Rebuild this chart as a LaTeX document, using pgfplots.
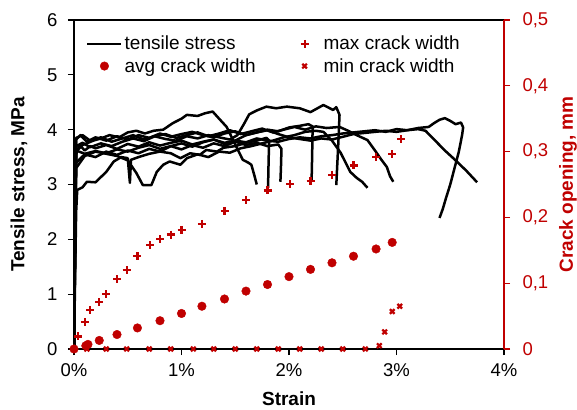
\documentclass[border=0pt]{standalone}
\usepackage{pgfplots}
\pgfplotsset{compat=1.18}
\usepackage{fontspec}
\setmainfont{Liberation Sans}
\definecolor{cred}{RGB}{192,0,0}
\pgfplotsset{
  legmark/.style={legend image code/.code={\path[draw=none,fill=none] (0bp,0bp) (34bp,0bp); \draw[##1] plot coordinates {(17bp,0bp)};}},
  legline/.style={legend image code/.code={\draw[##1] (0bp,0bp) -- (34bp,0bp);}},
  curve/.style={black, line width=2.5bp, line join=round},
}
\begin{document}
\begin{tikzpicture}
\begin{axis}[name=ax1,
 scale only axis, width=430bp, height=329bp,
 xmin=0,xmax=4, ymin=0,ymax=6,
 xtick={0,1,2,3,4}, xticklabels={0\%,1\%,2\%,3\%,4\%},
 ytick={0,1,2,3,4,5,6},
 axis line style={line width=1.6bp, black},
 tick style={line width=1.2bp, black},
 major tick length=6bp,
 tick align=outside, xtick pos=bottom, ytick pos=left,
 ticklabel style={font=\fontsize{18.5bp}{20bp}\selectfont},
 xticklabel style={yshift=-5bp},
 yticklabel style={xshift=-7bp},
 /pgf/number format/assume math mode=true,
 every axis x label/.style={at={(axis description cs:0.5,0)}, yshift=-50bp, anchor=center},
 every axis y label/.style={at={(axis description cs:0,0.5)}, xshift=-55bp, rotate=90, anchor=center},
 xlabel={Strain}, ylabel={Tensile stress, MPa},
 label style={font=\fontsize{19bp}{22bp}\selectfont\bfseries},
]
\addplot[curve] coordinates {(0,0)(0.01,1.8)(0.02,3.55)(0.05,3.72)(0.1,3.62)(0.15,3.7)(0.2,3.66)(0.3,3.72)(0.4,3.65)(0.5,3.74)(0.6,3.69)(0.7,3.77)(0.8,3.71)(0.9,3.76)(1.0,3.8)(1.1,3.73)(1.2,3.78)(1.3,3.82)(1.4,3.76)(1.5,3.8)(1.6,3.77)(1.7,3.84)(1.8,3.8)(1.9,3.78)(2.0,3.83)(2.1,3.86)(2.2,3.84)(2.3,3.88)(2.4,3.9)(2.5,3.93)(2.6,3.95)(2.7,3.97)(2.8,3.99)(2.9,3.96)(3.0,4.01)(3.1,3.99)(3.2,4.03)(3.3,4.05)(3.35,4.12)(3.4,4.18)(3.45,4.21)(3.5,4.16)(3.55,4.1)(3.6,4.13)(3.62,4.04)(3.61,3.9)(3.58,3.6)(3.54,3.3)(3.5,3.0)(3.46,2.75)(3.43,2.55)(3.40,2.39)};
\addplot[curve] coordinates {(0,0)(0.01,2.5)(0.02,3.82)(0.06,3.9)(0.12,3.78)(0.2,3.86)(0.3,3.8)(0.4,3.88)(0.5,3.82)(0.6,3.9)(0.7,3.85)(0.8,3.93)(0.9,3.87)(1.0,3.92)(1.1,3.96)(1.2,3.9)(1.3,3.86)(1.4,3.93)(1.5,3.97)(1.6,3.9)(1.7,3.95)(1.8,3.99)(1.9,3.92)(2.0,3.86)(2.1,3.83)(2.2,3.8)(2.3,3.84)(2.4,3.82)(2.5,3.87)(2.6,3.92)(2.7,3.94)(2.8,3.96)(2.9,3.98)(3.0,3.96)(3.1,3.99)(3.2,4.01)(3.27,3.98)(3.35,3.82)(3.45,3.62)(3.55,3.44)(3.65,3.25)(3.75,3.04)};
\addplot[curve] coordinates {(0,0)(0.01,2.2)(0.02,3.7)(0.08,3.76)(0.15,3.68)(0.25,3.75)(0.35,3.7)(0.45,3.78)(0.55,3.84)(0.65,3.79)(0.75,3.88)(0.85,3.83)(0.95,3.8)(1.05,3.88)(1.15,3.84)(1.25,3.9)(1.35,3.86)(1.45,3.82)(1.52,3.9)(1.58,4.1)(1.63,4.28)(1.7,4.35)(1.79,4.42)(1.88,4.39)(1.98,4.42)(2.1,4.39)(2.2,4.32)(2.32,4.45)(2.41,4.36)(2.44,4.41)(2.47,4.27)(2.46,3.8)(2.45,3.4)(2.44,2.99)};
\addplot[curve] coordinates {(0,0)(0.01,2.0)(0.02,3.6)(0.08,3.72)(0.18,3.8)(0.25,3.84)(0.33,3.9)(0.42,3.86)(0.5,3.95)(0.58,3.98)(0.66,3.93)(0.74,3.98)(0.83,4.0)(0.92,4.12)(1.0,4.2)(1.05,4.27)(1.15,4.25)(1.22,4.3)(1.29,4.33)(1.35,4.2)(1.42,4.05)(1.47,3.85)(1.52,3.65)(1.57,3.45)(1.62,3.4)(1.65,3.36)(1.68,3.15)(1.70,3.0)};
\addplot[curve] coordinates {(0,0)(0.01,2.4)(0.02,3.62)(0.1,3.56)(0.2,3.61)(0.3,3.57)(0.4,3.64)(0.5,3.6)(0.6,3.67)(0.7,3.72)(0.8,3.65)(0.9,3.7)(1.0,3.75)(1.1,3.69)(1.2,3.77)(1.3,3.82)(1.4,3.74)(1.5,3.8)(1.6,3.9)(1.7,3.95)(1.8,4.0)(1.9,3.97)(2.0,4.04)(2.1,4.07)(2.18,4.1)(2.22,4.06)(2.215,3.5)(2.21,3.05)};
\addplot[curve] coordinates {(0,0)(0.01,1.6)(0.02,3.4)(0.1,3.55)(0.2,3.5)(0.3,3.6)(0.4,3.54)(0.5,3.62)(0.6,3.57)(0.7,3.65)(0.8,3.6)(0.9,3.7)(1.0,3.64)(1.1,3.72)(1.2,3.67)(1.3,3.75)(1.4,3.7)(1.5,3.78)(1.6,3.72)(1.7,3.76)(1.8,3.7)(1.9,3.73)(1.93,3.65)(1.925,3.3)(1.92,3.05)};
\addplot[curve] coordinates {(0,0)(0.02,2.5)(0.03,2.9)(0.08,2.95)(0.12,3.05)(0.2,3.04)(0.3,3.23)(0.37,3.42)(0.44,3.5)(0.5,3.48)(0.52,3.03)(0.53,3.45)(0.6,3.5)(0.7,3.56)(0.8,3.6)(0.9,3.57)(0.99,3.48)(1.08,3.57)(1.17,3.54)(1.23,3.63)(1.33,3.6)(1.39,3.67)(1.5,3.7)(1.6,3.76)(1.7,3.8)(1.79,3.85)(1.815,3.8)(1.81,3.4)(1.805,2.94)};
\addplot[curve] coordinates {(0,0)(0.01,2.0)(0.02,3.3)(0.1,3.52)(0.2,3.6)(0.3,3.56)(0.4,3.52)(0.5,3.44)(0.58,3.21)(0.64,2.99)(0.72,2.99)(0.77,3.23)(0.83,3.36)(0.89,3.42)(0.99,3.36)(1.05,3.48)(1.15,3.55)(1.25,3.5)(1.35,3.6)(1.45,3.58)(1.55,3.66)(1.65,3.7)(1.75,3.75)(1.85,3.8)(1.95,3.86)(2.05,3.9)(2.15,3.96)(2.25,3.98)(2.32,3.96)(2.4,3.8)(2.48,3.58)(2.57,3.23)(2.63,3.12)(2.68,3.05)(2.73,2.94)};
\addplot[curve] coordinates {(0,0)(0.01,2.6)(0.02,3.85)(0.08,3.9)(0.15,3.8)(0.25,3.86)(0.35,3.78)(0.45,3.84)(0.55,3.9)(0.65,3.82)(0.75,3.88)(0.85,3.92)(0.95,3.85)(1.05,3.9)(1.15,3.95)(1.25,3.88)(1.35,3.93)(1.45,3.99)(1.55,3.92)(1.65,3.97)(1.75,4.02)(1.85,3.95)(1.95,4.0)(2.05,4.05)(2.15,4.0)(2.25,4.06)(2.35,4.03)(2.47,4.05)(2.55,3.98)(2.63,3.9)(2.73,3.81)(2.8,3.62)(2.86,3.45)(2.91,3.32)(2.94,3.15)(2.97,3.05)};
\end{axis}
\begin{axis}[name=ax2,
 scale only axis, width=430bp, height=329bp,
 xmin=0,xmax=4, ymin=0,ymax=0.5,
 axis x line=none, axis y line*=right,
 y axis line style={cred, line width=1.6bp},
 ytick={0,0.1,0.2,0.3,0.4,0.5},
 tick style={line width=1.2bp, cred},
 major tick length=6bp, tick align=outside,
 yticklabel style={text=cred, xshift=9bp, font=\fontsize{18.5bp}{20bp}\selectfont, /pgf/number format/use comma, /pgf/number format/fixed},
 /pgf/number format/assume math mode=true,
 every axis y label/.style={at={(axis description cs:1,0.5)}, xshift=64bp, rotate=90, anchor=center},
 ylabel={Crack opening, mm},
 ylabel style={font=\fontsize{19bp}{22bp}\selectfont\bfseries, text=cred},
 clip=false,
 legend columns=2, transpose legend,
 legend style={draw=none, fill=none, at={(axis description cs:0,1)}, anchor=north west, xshift=9bp, yshift=-12bp,
   font=\fontsize{19bp}{22bp}\selectfont, row sep=3bp,
   /tikz/every even column/.append style={column sep=30bp}},
 legend cell align=left,
]
\addlegendimage{black, line width=2.5bp, legline}
\addlegendentry{tensile stress}
\addplot[only marks, mark=*, mark size=4.3bp, cred, mark options={fill=cred, draw=cred}, legmark]
 coordinates {(0,0)(0.11,0.005)(0.13,0.007)(0.235,0.013)(0.40,0.022)(0.59,0.032)(0.80,0.043)(1.0,0.054)(1.19,0.065)(1.40,0.076)(1.60,0.088)(1.80,0.098)(2.0,0.110)(2.20,0.121)(2.40,0.131)(2.60,0.141)(2.81,0.152)(2.96,0.162)};
\addlegendentry{avg crack width}
\addplot[only marks, mark=+, mark size=4bp, cred, mark options={line width=2.2bp}, legmark]
 coordinates {(0,0)(0.04,0.019)(0.10,0.041)(0.15,0.059)(0.235,0.071)(0.30,0.083)(0.40,0.106)(0.49,0.120)(0.59,0.141)(0.71,0.158)(0.80,0.167)(0.90,0.174)(1.0,0.181)(1.19,0.190)(1.40,0.210)(1.60,0.226)(1.80,0.241)(2.01,0.251)(2.20,0.255)(2.40,0.265)(2.60,0.279)(2.81,0.292)(2.96,0.296)(3.04,0.319)};
\addlegendentry{max crack width}
\addplot[only marks, mark=x, mark size=3.3bp, cred, mark options={line width=2.2bp}, legmark]
 coordinates {(0,0)(0.12,0)(0.30,0)(0.49,0)(0.70,0)(0.90,0)(1.11,0)(1.30,0)(1.50,0)(1.70,0)(1.90,0)(2.10,0)(2.30,0)(2.50,0)(2.71,0)(2.84,0.005)(2.89,0.026)(2.96,0.057)(3.03,0.065)};
\addlegendentry{min crack width}
\end{axis}
\pgfresetboundingbox
\path ([shift={(-74bp,-61bp)}]ax1.south west) rectangle ([shift={(73bp,20bp)}]ax1.north east);
\end{tikzpicture}
\end{document}
